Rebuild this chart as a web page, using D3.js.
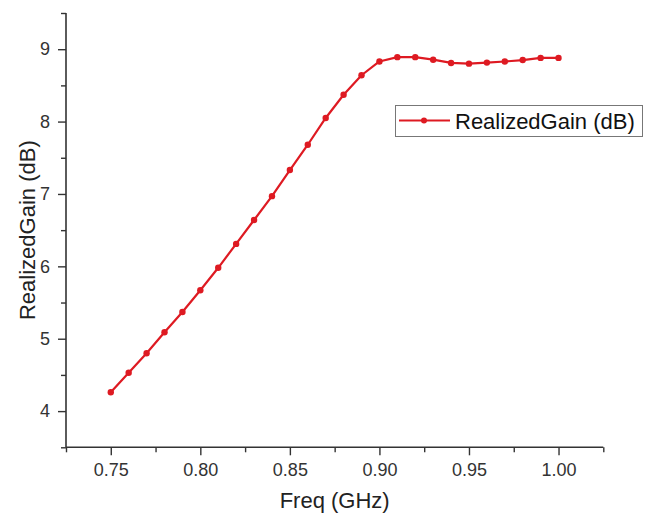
<!DOCTYPE html>
<html>
<head>
<meta charset="utf-8">
<script src="https://cdn.jsdelivr.net/npm/d3@7"></script>
<style>
  body { margin: 0; background: #fff; }
  svg { display: block; font-family: "Liberation Sans", Arial, sans-serif; }
</style>
</head>
<body>
<svg id="chart" width="654" height="515"></svg>
<script>
// ---- Data ----
const freq = [0.75, 0.76, 0.77, 0.78, 0.79, 0.80, 0.81, 0.82, 0.83, 0.84, 0.85, 0.86, 0.87,
              0.88, 0.89, 0.90, 0.91, 0.92, 0.93, 0.94, 0.95, 0.96, 0.97, 0.98, 0.99, 1.00];
const gain = [4.26, 4.53, 4.80, 5.09, 5.37, 5.67, 5.98, 6.31, 6.64, 6.97, 7.33, 7.68, 8.05,
              8.37, 8.64, 8.83, 8.89, 8.89, 8.855, 8.81, 8.80, 8.815, 8.83, 8.85, 8.88, 8.88];
const xMajorTicks = [0.75, 0.80, 0.85, 0.90, 0.95, 1.00];
const xMinorTicks = [0.725, 0.775, 0.825, 0.875, 0.925, 0.975, 1.025];
const yMajorTicks = [4, 5, 6, 7, 8, 9];
const yMinorTicks = [3.5, 4.5, 5.5, 6.5, 7.5, 8.5, 9.5];
const seriesName = "RealizedGain (dB)";
const xTitle = "Freq (GHz)";
const yTitle = "RealizedGain (dB)";

// ---- Layout ----
const svg = d3.select("#chart");
const mLeft = 66, mRight = 603.3, mTop = 13, mBottom = 447.3;
const x = d3.scaleLinear().domain([0.725, 1.025]).range([mLeft, mRight]);
const y = d3.scaleLinear().domain([3.5, 9.5]).range([mBottom, mTop]);
const axisColor = "#333";
const red = "#de1a22";

// minor ticks
const gxm = svg.append("g").attr("transform", `translate(0,${mBottom})`)
  .call(d3.axisBottom(x).tickValues(xMinorTicks).tickSize(5).tickFormat(""));
const gym = svg.append("g").attr("transform", `translate(${mLeft},0)`)
  .call(d3.axisLeft(y).tickValues(yMinorTicks).tickSize(5).tickFormat(""));

// major axes
const gx = svg.append("g").attr("transform", `translate(0,${mBottom})`)
  .call(d3.axisBottom(x).tickValues(xMajorTicks).tickSize(8).tickPadding(8)
        .tickFormat(d3.format(".2f")));
const gy = svg.append("g").attr("transform", `translate(${mLeft},0)`)
  .call(d3.axisLeft(y).tickValues(yMajorTicks).tickSize(8).tickPadding(8)
        .tickFormat(d3.format("d")));

[gxm, gym, gx, gy].forEach(g => {
  g.selectAll(".domain").attr("stroke", axisColor).attr("stroke-width", 1.6);
  g.selectAll(".tick line").attr("stroke", axisColor).attr("stroke-width", 1.4);
  g.selectAll(".tick text").attr("fill", "#333").style("font-size", "18px")
    .style("font-family", "'Liberation Sans', Arial, sans-serif");
});
gxm.select(".domain").remove();
gym.select(".domain").remove();
gx.select(".domain").attr("d", `M${mLeft},0H${mRight}`);
gy.select(".domain").attr("d", `M0,${mBottom}V${mTop}`);

// axis titles
svg.append("text")
  .attr("x", (mLeft + mRight) / 2).attr("y", 508)
  .attr("text-anchor", "middle").attr("fill", "#222")
  .style("font-size", "22px").text(xTitle);
svg.append("text")
  .attr("transform", `translate(35,${(mTop + mBottom) / 2}) rotate(-90)`)
  .attr("text-anchor", "middle").attr("fill", "#222")
  .style("font-size", "22px").text(yTitle);

// series
const pts = freq.map((f, i) => [f, gain[i]]);
svg.append("path").datum(pts)
  .attr("fill", "none").attr("stroke", red).attr("stroke-width", 2.2)
  .attr("stroke-linejoin", "round")
  .attr("d", d3.line().x(d => x(d[0])).y(d => y(d[1])));
svg.append("g").selectAll("circle").data(pts).join("circle")
  .attr("cx", d => x(d[0])).attr("cy", d => y(d[1]))
  .attr("r", 3.2).attr("fill", red);

// legend
const lg = svg.append("g");
lg.append("rect").attr("x", 395.5).attr("y", 105.5).attr("width", 247).attr("height", 31)
  .attr("fill", "#fff").attr("stroke", "#777").attr("stroke-width", 1);
lg.append("line").attr("x1", 399).attr("x2", 450).attr("y1", 120.5).attr("y2", 120.5)
  .attr("stroke", red).attr("stroke-width", 2.2);
lg.append("circle").attr("cx", 424).attr("cy", 120.5).attr("r", 3).attr("fill", red);
lg.append("text").attr("x", 455).attr("y", 128.5).attr("fill", "#111")
  .style("font-size", "22px").text(seriesName);
</script>
</body>
</html>
